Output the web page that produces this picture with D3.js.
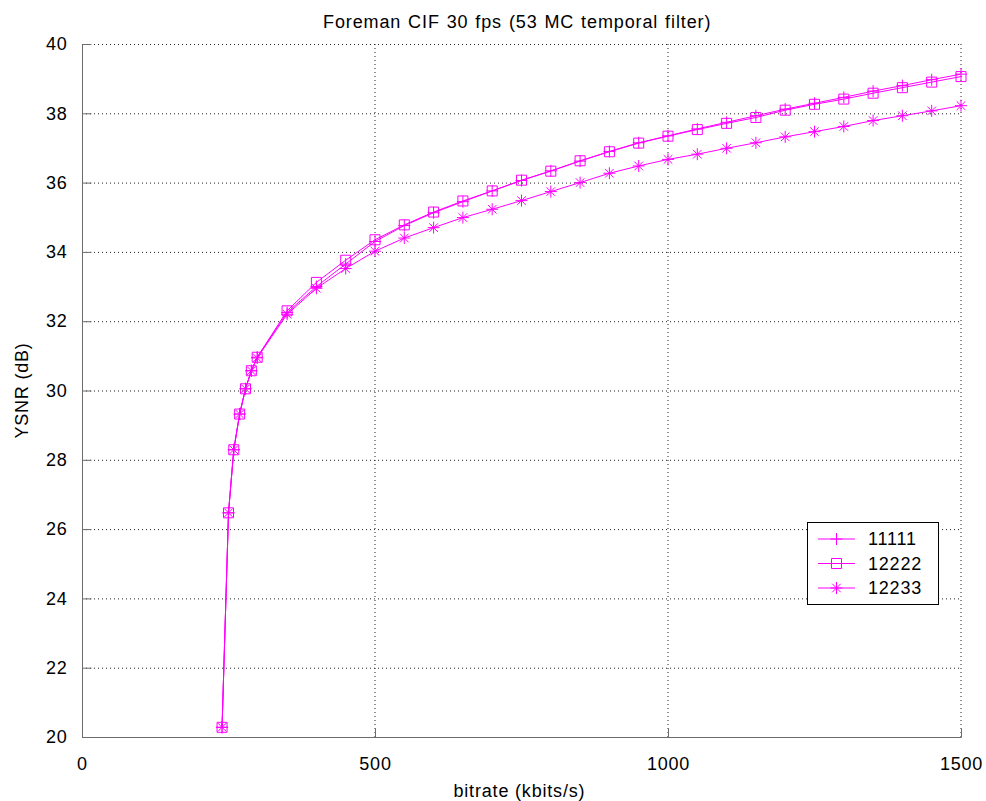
<!DOCTYPE html>
<html>
<head>
<meta charset="utf-8">
<script src="https://cdn.jsdelivr.net/npm/d3@7"></script>
<style>
  html, body { margin: 0; padding: 0; background: #fff; }
  svg { display: block; }
  text { font-family: "Liberation Sans", Arial, Helvetica, sans-serif; fill: #000; }
</style>
</head>
<body>
<svg id="chart" width="986" height="801"></svg>
<script>
// ---- data ----
const bitrate = [239, 250, 259, 269, 279, 289, 299, 350, 400, 450, 500, 550, 600, 650, 700, 750, 800, 850, 900, 950, 1000, 1050, 1100, 1150, 1200, 1250, 1300, 1350, 1400, 1450, 1500];
const s11111 = [20.28, 26.47, 28.29, 29.32, 30.05, 30.57, 30.96, 32.25, 33.00, 33.65, 34.30, 34.76, 35.13, 35.45, 35.76, 36.06, 36.34, 36.62, 36.90, 37.15, 37.35, 37.55, 37.74, 37.93, 38.12, 38.29, 38.46, 38.64, 38.80, 38.97, 39.13];
const s12222 = [20.28, 26.47, 28.29, 29.32, 30.05, 30.57, 30.96, 32.30, 33.12, 33.76, 34.35, 34.78, 35.15, 35.47, 35.76, 36.07, 36.33, 36.63, 36.89, 37.14, 37.34, 37.53, 37.71, 37.88, 38.09, 38.26, 38.41, 38.58, 38.74, 38.90, 39.06];
const s12233 = [20.28, 26.47, 28.29, 29.32, 30.05, 30.57, 30.94, 32.20, 32.95, 33.52, 34.02, 34.40, 34.70, 34.99, 35.23, 35.48, 35.74, 36.00, 36.27, 36.48, 36.67, 36.82, 36.99, 37.15, 37.32, 37.47, 37.62, 37.79, 37.93, 38.07, 38.22];
const seriesNames = ["11111", "12222", "12233"];
const seriesMarkers = ["plus", "square", "asterisk"];
const xTicks = [0, 500, 1000, 1500];
const yTicks = [20, 22, 24, 26, 28, 30, 32, 34, 36, 38, 40];
const titleText = "Foreman CIF 30 fps (53 MC temporal filter)";
const xLabelText = "bitrate (kbits/s)";
const yLabelText = "YSNR (dB)";

// ---- layout ----
const svg = d3.select("#chart");
const L = 82, R = 961, T = 44, B = 737;
const x = d3.scaleLinear().domain([0, 1500]).range([L, R]);
const y = d3.scaleLinear().domain([20, 40]).range([B, T]);
const color = "#ff00ff";
const fontSize = 18;

// grid (dotted)
const grid = svg.append("g");
grid.selectAll("line.vx").data(xTicks.filter(d => d > 0)).enter().append("line")
  .attr("x1", d => x(d)).attr("x2", d => x(d)).attr("y1", B).attr("y2", T)
  .attr("stroke", "#222").attr("stroke-width", 1).attr("stroke-dasharray", "1,3");
grid.selectAll("line.hy").data(yTicks.filter(d => d > 20)).enter().append("line")
  .attr("x1", L).attr("x2", R).attr("y1", d => y(d) + 0.5).attr("y2", d => y(d) + 0.5)
  .attr("stroke", "#222").attr("stroke-width", 1).attr("stroke-dasharray", "1,3");

// axes
const xAxis = d3.axisBottom(x).tickValues(xTicks).tickSize(-9).tickPadding(20).tickFormat(d3.format("d"));
const yAxis = d3.axisLeft(y).tickValues(yTicks).tickSize(-9).tickPadding(15).tickFormat(d3.format("d"));
const gx = svg.append("g").attr("transform", `translate(0,${B + 0.5})`).call(xAxis);
const gy = svg.append("g").attr("transform", `translate(${L + 0.5},0)`).call(yAxis);
[gx, gy].forEach(g => {
  g.selectAll(".tick line").attr("stroke", "#6b6b6b");
  g.selectAll(".tick text").attr("font-size", fontSize).attr("fill", "#000")
    .style("font-family", '"Liberation Sans", Arial, sans-serif').style("letter-spacing", "0.8px");
});
gx.select(".domain").remove();
gy.select(".domain").remove();
svg.append("line").attr("x1", L).attr("x2", R + 0.5).attr("y1", B + 0.5).attr("y2", B + 0.5).attr("stroke", "#6b6b6b");
svg.append("line").attr("x1", L + 0.5).attr("x2", L + 0.5).attr("y1", T).attr("y2", B + 0.5).attr("stroke", "#6b6b6b");
gx.selectAll(".tick text").attr("dy", "0.71em");

// markers
function markerPath(type, cx, cy) {
  const p = d3.path();
  if (type === "plus") {
    const s = 6;
    p.moveTo(cx - s, cy); p.lineTo(cx + s, cy);
    p.moveTo(cx, cy - s); p.lineTo(cx, cy + s);
  } else if (type === "square") {
    const s = 5;
    p.rect(cx - s, cy - s, 2 * s, 2 * s);
  } else {
    const s = 6, d = 4.3;
    p.moveTo(cx - s, cy); p.lineTo(cx + s, cy);
    p.moveTo(cx, cy - s); p.lineTo(cx, cy + s);
    p.moveTo(cx - d, cy - d); p.lineTo(cx + d, cy + d);
    p.moveTo(cx - d, cy + d); p.lineTo(cx + d, cy - d);
  }
  return p.toString();
}

const allSeries = [s11111, s12222, s12233];
const line = d3.line().x(d => x(d[0])).y(d => y(d[1]));
allSeries.forEach((vals, i) => {
  const pts = bitrate.map((b, j) => [b, vals[j]]);
  const g = svg.append("g");
  g.append("path").attr("d", line(pts)).attr("fill", "none").attr("stroke", color).attr("stroke-width", 1);
  g.selectAll("path.m").data(pts).enter().append("path")
    .attr("d", d => markerPath(seriesMarkers[i], x(d[0]), y(d[1])))
    .attr("fill", "none").attr("stroke", color).attr("stroke-width", 1);
});

// title and labels
svg.append("text").attr("x", 517).attr("y", 28).attr("text-anchor", "middle")
  .attr("font-size", fontSize).style("letter-spacing", "0.55px").style("word-spacing", "1px")
  .attr("textLength", 388).attr("lengthAdjust", "spacing").text(titleText);
svg.append("text").attr("x", 519).attr("y", 797).attr("text-anchor", "middle")
  .attr("font-size", fontSize).attr("textLength", 131).attr("lengthAdjust", "spacing").text(xLabelText);
svg.append("text").attr("transform", `translate(28,${(T + B) / 2}) rotate(-90)`).attr("text-anchor", "middle")
  .attr("font-size", fontSize).style("letter-spacing", "0.8px").text(yLabelText);

// legend
const lg = svg.append("g");
const lx = 807, ly = 522, lw = 131, lh = 82;
lg.append("rect").attr("x", lx + 0.5).attr("y", ly + 0.5).attr("width", lw).attr("height", lh)
  .attr("fill", "#fff").attr("stroke", "#000").attr("stroke-width", 1);
seriesNames.forEach((name, i) => {
  const yy = ly + 17 + i * 24.5;
  lg.append("line").attr("x1", lx + 11).attr("x2", lx + 48).attr("y1", yy).attr("y2", yy)
    .attr("stroke", color).attr("stroke-width", 1);
  lg.append("path").attr("d", markerPath(seriesMarkers[i], lx + 29.5, yy))
    .attr("fill", "none").attr("stroke", color).attr("stroke-width", 1);
  lg.append("text").attr("x", lx + 61).attr("y", yy).attr("dy", "0.36em")
    .attr("font-size", fontSize).style("letter-spacing", "0.8px").text(name);
});
</script>
</body>
</html>
